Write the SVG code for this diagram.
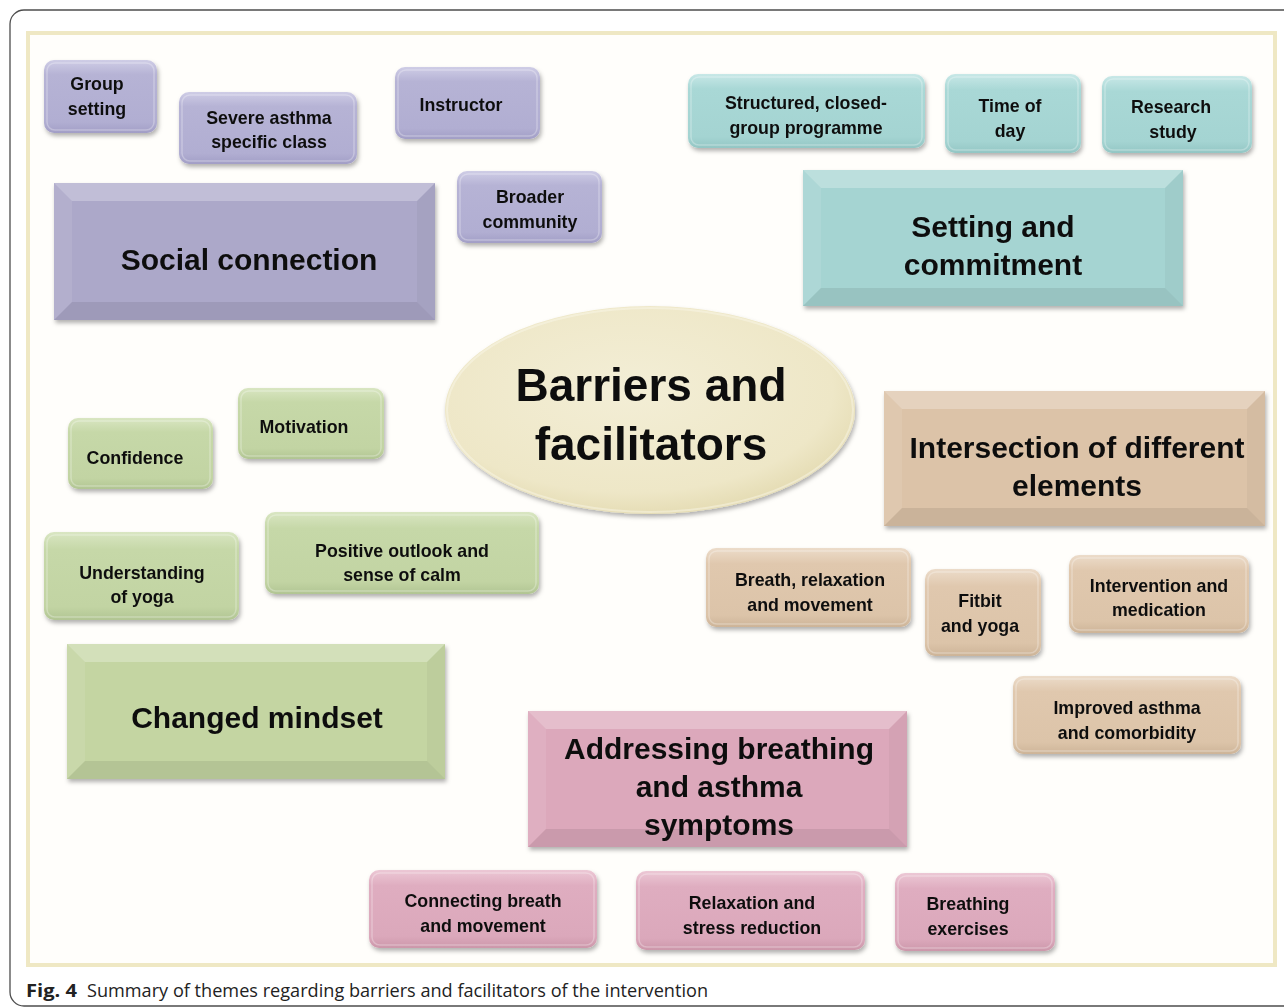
<svg xmlns="http://www.w3.org/2000/svg" width="1284" height="1008" viewBox="0 0 1284 1008">
  <defs>
    <filter id="shadow" x="-10%" y="-10%" width="125%" height="135%">
      <feDropShadow dx="1.5" dy="3" stdDeviation="2" flood-color="#000" flood-opacity="0.3"/>
    </filter>
    <!-- soft vertical shading for the small rounded boxes -->
    <linearGradient id="g-purple" x1="0" y1="0" x2="0" y2="1">
      <stop offset="0" stop-color="#cfcde6"/><stop offset="0.2" stop-color="#b6b3d5"/>
      <stop offset="0.85" stop-color="#b1aed2"/><stop offset="1" stop-color="#a29ec6"/>
    </linearGradient>
    <linearGradient id="g-teal" x1="0" y1="0" x2="0" y2="1">
      <stop offset="0" stop-color="#c8e8e7"/><stop offset="0.2" stop-color="#a9d8d6"/>
      <stop offset="0.85" stop-color="#a4d4d2"/><stop offset="1" stop-color="#93c6c4"/>
    </linearGradient>
    <linearGradient id="g-green" x1="0" y1="0" x2="0" y2="1">
      <stop offset="0" stop-color="#d9e6c2"/><stop offset="0.2" stop-color="#c6d8a8"/>
      <stop offset="0.85" stop-color="#c2d4a3"/><stop offset="1" stop-color="#b1c593"/>
    </linearGradient>
    <linearGradient id="g-tan" x1="0" y1="0" x2="0" y2="1">
      <stop offset="0" stop-color="#ecdcca"/><stop offset="0.2" stop-color="#e0c8ae"/>
      <stop offset="0.85" stop-color="#dcc4a9"/><stop offset="1" stop-color="#cdb498"/>
    </linearGradient>
    <linearGradient id="g-pink" x1="0" y1="0" x2="0" y2="1">
      <stop offset="0" stop-color="#ecc8d5"/><stop offset="0.2" stop-color="#dfadc0"/>
      <stop offset="0.85" stop-color="#dba8bb"/><stop offset="1" stop-color="#cc97aa"/>
    </linearGradient>
    <radialGradient id="g-oval" cx="0.45" cy="0.4" r="0.62">
      <stop offset="0" stop-color="#f3eed6"/><stop offset="0.8" stop-color="#eee7c7"/>
      <stop offset="1" stop-color="#e4dbb2"/>
    </radialGradient>
  </defs>
  <style>
    .lbl{font-family:"Liberation Sans",Arial,Helvetica,sans-serif;font-weight:bold;fill:#111;text-anchor:middle}
    .sm{font-size:17.8px}
    .lg{font-size:30px}
    .xl{font-size:46px}
    .box{filter:url(#shadow)}
    .hl{fill:none;stroke:#fff;stroke-opacity:0.28;stroke-width:1.5}
    .purple .face{fill:url(#g-purple)}
    .teal .face{fill:url(#g-teal)}
    .green .face{fill:url(#g-green)}
    .tan .face{fill:url(#g-tan)}
    .pink .face{fill:url(#g-pink)}
    .purple .base{fill:#aca8c9}
    .teal .base{fill:#a5d4d2}
    .green .base{fill:#c4d5a2}
    .tan .base{fill:#dcc3a8}
    .pink .base{fill:#dca8bb}
    .ft{fill:#fff;fill-opacity:0.26}
    .fl{fill:#fff;fill-opacity:0.09}
    .fr{fill:#000;fill-opacity:0.035}
    .fb{fill:#000;fill-opacity:0.08}
    .cap{font-family:"Open Sans","Noto Sans","Liberation Sans",sans-serif;font-size:18.5px;fill:#222}
  </style>

  <!-- frame and panel -->
  <rect x="10" y="10" width="1300" height="996" rx="14" fill="#fff" stroke="#4d4d4d" stroke-width="1.3"/>
  <rect x="28" y="33" width="1247" height="932" fill="#fffefb" stroke="#efe8c4" stroke-width="4"/>

  <g id="connectors"/>

  <!-- central oval -->
  <g id="barriers-and-facilitators" class="box">
    <ellipse cx="650" cy="410" rx="205" ry="104" fill="url(#g-oval)"/>
    <ellipse cx="650" cy="410" rx="203" ry="102" fill="none" stroke="#fbf8ea" stroke-opacity="0.45" stroke-width="2"/>
    <text class="lbl xl" x="651" y="401">Barriers  and</text>
    <text class="lbl xl" x="651" y="460">facilitators</text>
  </g>

  <!-- social connection theme -->
  <g id="group-setting" class="purple box">
    <rect class="face" x="44" y="60" width="113" height="73" rx="10"/>
    <rect class="hl" x="47" y="63" width="107" height="67" rx="8"/>
    <text class="lbl sm" x="97" y="90">Group</text>
    <text class="lbl sm" x="97" y="115">setting</text>
  </g>
  <g id="severe-asthma-class" class="purple box">
    <rect class="face" x="179" y="92" width="178" height="72" rx="10"/>
    <rect class="hl" x="182" y="95" width="172" height="66" rx="8"/>
    <text class="lbl sm" x="269" y="124">Severe asthma</text>
    <text class="lbl sm" x="269" y="148">specific class</text>
  </g>
  <g id="instructor" class="purple box">
    <rect class="face" x="395" y="67" width="145" height="72" rx="10"/>
    <rect class="hl" x="398" y="70" width="139" height="66" rx="8"/>
    <text class="lbl sm" x="461" y="111">Instructor</text>
  </g>
  <g id="broader-community" class="purple box">
    <rect class="face" x="457" y="171" width="145" height="72" rx="10"/>
    <rect class="hl" x="460" y="174" width="139" height="66" rx="8"/>
    <text class="lbl sm" x="530" y="203">Broader</text>
    <text class="lbl sm" x="530" y="228">community</text>
  </g>
  <g id="social-connection" class="purple box">
    <rect class="base" x="54" y="183" width="381" height="137"/>
    <polygon class="ft" points="54,183 435,183 417,201 72,201"/>
    <polygon class="fl" points="54,183 72,201 72,302 54,320"/>
    <polygon class="fr" points="435,183 435,320 417,302 417,201"/>
    <polygon class="fb" points="54,320 72,302 417,302 435,320"/>
    <text class="lbl lg" x="249" y="270">Social connection</text>
  </g>

  <!-- setting and commitment theme -->
  <g id="structured-programme" class="teal box">
    <rect class="face" x="688" y="74" width="237" height="74" rx="10"/>
    <rect class="hl" x="691" y="77" width="231" height="68" rx="8"/>
    <text class="lbl sm" x="806" y="109">Structured, closed-</text>
    <text class="lbl sm" x="806" y="134">group programme</text>
  </g>
  <g id="time-of-day" class="teal box">
    <rect class="face" x="945" y="74" width="136" height="79" rx="10"/>
    <rect class="hl" x="948" y="77" width="130" height="73" rx="8"/>
    <text class="lbl sm" x="1010" y="112">Time of</text>
    <text class="lbl sm" x="1010" y="137">day</text>
  </g>
  <g id="research-study" class="teal box">
    <rect class="face" x="1102" y="76" width="150" height="77" rx="10"/>
    <rect class="hl" x="1105" y="79" width="144" height="71" rx="8"/>
    <text class="lbl sm" x="1171" y="113">Research</text>
    <text class="lbl sm" x="1173" y="138">study</text>
  </g>
  <g id="setting-and-commitment" class="teal box">
    <rect class="base" x="803" y="170" width="380" height="136"/>
    <polygon class="ft" points="803,170 1183,170 1165,188 821,188"/>
    <polygon class="fl" points="803,170 821,188 821,288 803,306"/>
    <polygon class="fr" points="1183,170 1183,306 1165,288 1165,188"/>
    <polygon class="fb" points="803,306 821,288 1165,288 1183,306"/>
    <text class="lbl lg" x="993" y="237">Setting and</text>
    <text class="lbl lg" x="993" y="275">commitment</text>
  </g>

  <!-- changed mindset theme -->
  <g id="motivation" class="green box">
    <rect class="face" x="238" y="388" width="146" height="71" rx="10"/>
    <rect class="hl" x="241" y="391" width="140" height="65" rx="8"/>
    <text class="lbl sm" x="304" y="433">Motivation</text>
  </g>
  <g id="confidence" class="green box">
    <rect class="face" x="68" y="418" width="145" height="71" rx="10"/>
    <rect class="hl" x="71" y="421" width="139" height="65" rx="8"/>
    <text class="lbl sm" x="135" y="464">Confidence</text>
  </g>
  <g id="understanding-of-yoga" class="green box">
    <rect class="face" x="44" y="532" width="195" height="88" rx="10"/>
    <rect class="hl" x="47" y="535" width="189" height="82" rx="8"/>
    <text class="lbl sm" x="142" y="579">Understanding</text>
    <text class="lbl sm" x="142" y="603">of yoga</text>
  </g>
  <g id="positive-outlook" class="green box">
    <rect class="face" x="265" y="512" width="274" height="82" rx="10"/>
    <rect class="hl" x="268" y="515" width="268" height="76" rx="8"/>
    <text class="lbl sm" x="402" y="557">Positive outlook and</text>
    <text class="lbl sm" x="402" y="581">sense of calm</text>
  </g>
  <g id="changed-mindset" class="green box">
    <rect class="base" x="67" y="644" width="378" height="135"/>
    <polygon class="ft" points="67,644 445,644 427,662 85,662"/>
    <polygon class="fl" points="67,644 85,662 85,761 67,779"/>
    <polygon class="fr" points="445,644 445,779 427,761 427,662"/>
    <polygon class="fb" points="67,779 85,761 427,761 445,779"/>
    <text class="lbl lg" x="257" y="728">Changed mindset</text>
  </g>

  <!-- intersection theme -->
  <g id="intersection-of-elements" class="tan box">
    <rect class="base" x="884" y="391" width="381" height="135"/>
    <polygon class="ft" points="884,391 1265,391 1247,409 902,409"/>
    <polygon class="fl" points="884,391 902,409 902,508 884,526"/>
    <polygon class="fr" points="1265,391 1265,526 1247,508 1247,409"/>
    <polygon class="fb" points="884,526 902,508 1247,508 1265,526"/>
    <text class="lbl lg" x="1077" y="458">Intersection of different</text>
    <text class="lbl lg" x="1077" y="496">elements</text>
  </g>
  <g id="breath-relaxation-movement" class="tan box">
    <rect class="face" x="706" y="548" width="205" height="79" rx="10"/>
    <rect class="hl" x="709" y="551" width="199" height="73" rx="8"/>
    <text class="lbl sm" x="810" y="586">Breath, relaxation</text>
    <text class="lbl sm" x="810" y="611">and movement</text>
  </g>
  <g id="fitbit-and-yoga" class="tan box">
    <rect class="face" x="925" y="569" width="116" height="87" rx="10"/>
    <rect class="hl" x="928" y="572" width="110" height="81" rx="8"/>
    <text class="lbl sm" x="980" y="607">Fitbit</text>
    <text class="lbl sm" x="980" y="632">and yoga</text>
  </g>
  <g id="intervention-and-medication" class="tan box">
    <rect class="face" x="1069" y="555" width="180" height="78" rx="10"/>
    <rect class="hl" x="1072" y="558" width="174" height="72" rx="8"/>
    <text class="lbl sm" x="1159" y="592">Intervention and</text>
    <text class="lbl sm" x="1159" y="616">medication</text>
  </g>
  <g id="improved-asthma" class="tan box">
    <rect class="face" x="1013" y="676" width="228" height="78" rx="10"/>
    <rect class="hl" x="1016" y="679" width="222" height="72" rx="8"/>
    <text class="lbl sm" x="1127" y="714">Improved asthma</text>
    <text class="lbl sm" x="1127" y="739">and comorbidity</text>
  </g>

  <!-- breathing and asthma theme -->
  <g id="addressing-breathing" class="pink box">
    <rect class="base" x="528" y="711" width="379" height="136"/>
    <polygon class="ft" points="528,711 907,711 889,729 546,729"/>
    <polygon class="fl" points="528,711 546,729 546,829 528,847"/>
    <polygon class="fr" points="907,711 907,847 889,829 889,729"/>
    <polygon class="fb" points="528,847 546,829 889,829 907,847"/>
    <text class="lbl lg" x="719" y="759">Addressing breathing</text>
    <text class="lbl lg" x="719" y="797">and asthma</text>
    <text class="lbl lg" x="719" y="835">symptoms</text>
  </g>
  <g id="connecting-breath" class="pink box">
    <rect class="face" x="369" y="870" width="228" height="78" rx="10"/>
    <rect class="hl" x="372" y="873" width="222" height="72" rx="8"/>
    <text class="lbl sm" x="483" y="907">Connecting breath</text>
    <text class="lbl sm" x="483" y="932">and movement</text>
  </g>
  <g id="relaxation-stress" class="pink box">
    <rect class="face" x="636" y="871" width="229" height="79" rx="10"/>
    <rect class="hl" x="639" y="874" width="223" height="73" rx="8"/>
    <text class="lbl sm" x="752" y="909">Relaxation and</text>
    <text class="lbl sm" x="752" y="934">stress reduction</text>
  </g>
  <g id="breathing-exercises" class="pink box">
    <rect class="face" x="895" y="873" width="160" height="78" rx="10"/>
    <rect class="hl" x="898" y="876" width="154" height="72" rx="8"/>
    <text class="lbl sm" x="968" y="910">Breathing</text>
    <text class="lbl sm" x="968" y="935">exercises</text>
  </g>

  <!-- figure caption -->
  <text class="cap" x="26" y="997" font-weight="bold" textLength="51" lengthAdjust="spacingAndGlyphs">Fig. 4</text>
  <text class="cap" x="87" y="997" textLength="621" lengthAdjust="spacingAndGlyphs">Summary of themes regarding barriers and facilitators of the intervention</text>
</svg>
